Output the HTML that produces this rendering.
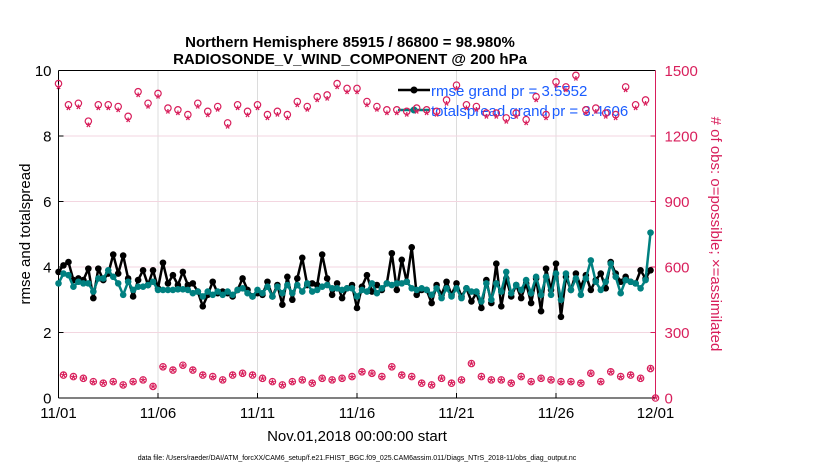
<!DOCTYPE html>
<html><head><meta charset="utf-8"><style>
html,body{margin:0;padding:0;background:#fff;}
svg{display:block;font-family:"Liberation Sans",Arial,sans-serif;}
</style></head><body>
<svg id="chart" width="830" height="470" viewBox="0 0 830 470">
<g id="grid"></g>
<g id="axes"></g>
<g id="legend">
  <line x1="398" y1="90" x2="430" y2="90" stroke="#000" stroke-width="2.5"/>
  <circle cx="414" cy="90" r="3.5" fill="#000"/>
  <text x="431" y="96" font-size="15" fill="#1a5cff">rmse grand pr = 3.5552</text>
  <line x1="398" y1="110" x2="430" y2="110" stroke="#008080" stroke-width="2.5"/>
  <circle cx="414" cy="110" r="3.5" fill="#008080"/>
  <text x="431" y="116" font-size="15" fill="#1a5cff">totalspread grand pr = 3.4606</text>
</g>
<g id="series"></g>
<text x="350" y="47" font-size="15" font-weight="bold" text-anchor="middle">Northern Hemisphere 85915 / 86800 = 98.980%</text>
<text x="350" y="64" font-size="15" font-weight="bold" text-anchor="middle">RADIOSONDE_V_WIND_COMPONENT @ 200 hPa</text>
<text transform="translate(30,234) rotate(-90)" font-size="15" text-anchor="middle">rmse and totalspread</text>
<text transform="translate(711,234) rotate(90)" font-size="15" text-anchor="middle" fill="#d81e5b"># of obs: o=possible; ×=assimilated</text>
<text x="357" y="441" font-size="15" text-anchor="middle">Nov.01,2018 00:00:00 start</text>
<text x="357" y="460" font-size="7" text-anchor="middle">data file: /Users/raeder/DAI/ATM_forcXX/CAM6_setup/f.e21.FHIST_BGC.f09_025.CAM6assim.011/Diags_NTrS_2018-11/obs_diag_output.nc</text>
</svg>
<script>
const xTickLabels = ["11/01","11/06","11/11","11/16","11/21","11/26","12/01"];
const xTickDays = [0,5,10,15,20,25,30];
const yLeftTicks = [0,2,4,6,8,10];
const yRightTicks = [0,300,600,900,1200,1500];
const rmse = [3.85,4.05,4.15,3.6,3.65,3.6,3.95,3.05,3.95,3.6,3.8,4.38,3.8,4.35,3.65,3.1,3.6,3.9,3.45,3.9,3.35,4.13,3.5,3.75,3.45,3.85,3.45,3.5,3.25,2.8,3.15,3.55,3.2,3.25,3.2,3.1,3.3,3.65,3.3,3.1,3.2,3.15,3.55,3.1,3.45,2.85,3.7,3.0,3.65,4.28,3.45,3.5,3.45,4.38,3.65,3.15,3.5,3.05,3.35,3.45,
2.75,3.4,3.75,3.25,3.45,3.3,3.5,4.42,3.3,4.22,3.55,4.6,3.15,3.3,3.3,2.9,3.45,3.15,3.55,3.15,3.5,3.1,3.35,2.95,3.2,2.75,3.6,2.9,4.1,2.8,3.65,3.1,3.45,3.05,3.5,2.9,3.65,2.65,3.95,3.3,4.1,2.48,3.7,3.3,3.8,3.4,3.75,3.3,3.6,3.8,3.35,4.15,3.8,3.55,3.7,3.55,3.5,3.9,3.65,3.9];
const spread = [3.5,3.8,3.75,3.4,3.55,3.5,3.5,3.25,3.65,3.65,3.9,3.7,3.5,3.15,3.55,3.3,3.4,3.4,3.45,3.55,3.3,3.3,3.3,3.3,3.32,3.32,3.3,3.2,3.25,3.1,3.25,3.15,3.25,3.15,3.25,3.15,3.3,3.35,3.2,3.1,3.3,3.2,3.4,3.1,3.4,3.2,3.45,3.2,3.45,3.25,3.5,3.25,3.3,3.4,3.45,3.35,3.35,3.3,3.35,3.35,
3.1,3.3,3.25,3.5,3.2,3.35,3.5,3.45,3.5,3.5,3.55,3.35,3.3,3.35,3.3,3.15,3.35,3.05,3.35,3.1,3.35,3.05,3.35,3.25,3.25,2.95,3.5,3.0,3.5,3.25,3.85,3.2,3.45,3.3,3.6,3.2,3.7,3.15,3.7,3.15,3.8,3.0,3.8,3.3,3.65,3.15,3.65,4.2,3.55,3.3,3.55,4.1,3.7,3.2,3.6,3.55,3.5,3.35,3.6,5.05];
const possible = [1440,105,1343,98,1350,90,1268,75,1343,68,1343,75,1335,60,1290,75,1403,83,1350,53,1395,143,1328,128,1320,150,1298,128,1350,105,1313,98,1335,83,1260,105,1343,113,1313,105,1343,90,1298,75,1313,60,1298,75,1358,83,1335,68,1380,90,1388,83,1440,90,1418,98,1418,120,1358,113,1335,98,1320,143,1320,105,1313,98,1328,68,1320,60,1313,90,1365,68,1433,83,1343,158,1335,98,1305,83,1305,83,1283,68,1305,98,1275,75,1380,90,1298,83,1448,75,1425,75,1478,68,1320,113,1328,75,1305,120,1298,98,1425,105,1343,90,1365,135,0];
const assimilated = [1422,102,1325,95,1330,87,1248,72,1325,66,1326,72,1317,58,1272,72,1385,80,1332,51,1378,140,1310,125,1302,147,1280,125,1332,102,1295,95,1318,80,1242,102,1325,110,1295,102,1325,87,1280,72,1296,58,1280,72,1340,80,1318,66,1362,87,1370,80,1422,87,1400,95,1400,117,1340,110,1318,95,1302,140,1302,102,1296,95,1310,66,1302,58,1296,87,1347,66,1415,80,1325,155,1318,95,1288,80,1288,80,1265,66,1288,95,1258,72,1362,87,1280,80,1430,72,1408,72,1460,66,1302,110,1310,72,1288,117,1280,95,1408,102,1325,87,1347,132,0];

const NS="http://www.w3.org/2000/svg";
const X0=58.5,X1=655.5,Y0=398,Y1=70.5;
const xDay=d=>X0+(X1-X0)*d/30;
const xIdx=i=>xDay(i*0.25);
const yL=v=>Y0-(Y0-Y1)*v/10;
const yR=v=>Y0-(Y0-Y1)*v/1500;
function mk(tag,attrs,parent){const e=document.createElementNS(NS,tag);for(const k in attrs)e.setAttribute(k,attrs[k]);parent.appendChild(e);return e;}
const grid=document.getElementById('grid'),axes=document.getElementById('axes'),ser=document.getElementById('series');
xTickDays.forEach((d,i)=>{
  const x=xDay(d);
  if(i>0&&i<xTickDays.length-1){const g=mk('line',{x1:x,y1:Y1,x2:x,y2:Y0,stroke:'#dcdcdc','stroke-width':1},grid);
  
  }
  mk('line',{x1:x,y1:Y0,x2:x,y2:Y0-5,stroke:'#000'},axes);
  const t=mk('text',{x:x,y:Y0+20,'font-size':15,'text-anchor':'middle'},axes);t.textContent=xTickLabels[i];
  
  
});
yLeftTicks.forEach(v=>{
  const y=yL(v);
  if(v>0&&v<10){const g=mk('line',{x1:X0,y1:y,x2:X1,y2:y,stroke:'#f3d6e0','stroke-width':1},grid);
  
  }
  mk('line',{x1:X0,y1:y,x2:X0+5,y2:y,stroke:'#000'},axes);
  const t=mk('text',{x:X0-7,y:y+5.5,'font-size':15,'text-anchor':'end'},axes);t.textContent=v;
  
  
});
yRightTicks.forEach(v=>{
  const y=yR(v);
  mk('line',{x1:X1,y1:y,x2:X1-5,y2:y,stroke:'#d81e5b'},axes);
  const t=mk('text',{x:X1+9,y:y+5.5,'font-size':15,fill:'#d81e5b'},axes);t.textContent=v;
  
  
});
mk('line',{x1:X0,y1:Y1,x2:X1,y2:Y1,stroke:'#000'},axes);
mk('line',{x1:X0,y1:Y0,x2:X1,y2:Y0,stroke:'#000'},axes);
mk('line',{x1:X0,y1:Y1,x2:X0,y2:Y0,stroke:'#000'},axes);
mk('line',{x1:X1,y1:Y1,x2:X1,y2:Y0,stroke:'#d81e5b'},axes);

function line(arr,color,name){
  const pts=arr.map((v,i)=>xIdx(i)+','+yL(v)).join(' ');
  const p=mk('polyline',{points:pts,fill:'none',stroke:color,'stroke-width':2.5,'stroke-linejoin':'round'},ser);
  
  
  arr.forEach((v,i)=>{const c=mk('circle',{cx:xIdx(i),cy:yL(v),r:3.3,fill:color},ser);
    
    });
}
line(rmse,'#000','rmse');
line(spread,'#008080','totalspread');
const col='#d81e5b';
possible.forEach((v,i)=>{
  const c=mk('circle',{cx:xIdx(i),cy:yR(v),r:3.2,fill:'none',stroke:col,'stroke-width':1.2},ser);
  
  
});
assimilated.forEach((v,i)=>{
  const x=xIdx(i),y=yR(v);
  const t=mk('text',{x:x,y:y+6,'font-size':13,'font-weight':'bold','text-anchor':'middle',fill:col},ser);
  t.textContent='*';
  
  
});
</script>
</body></html>
